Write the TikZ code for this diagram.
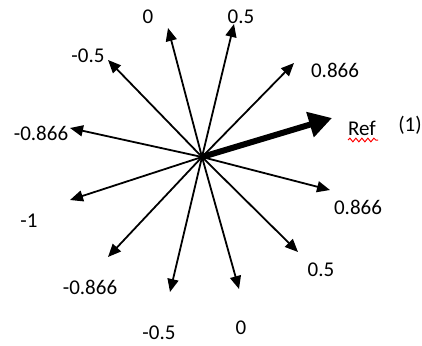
\documentclass[tikz,border=0pt]{standalone}
\usepackage{fontspec}
\setmainfont{Carlito}
\usetikzlibrary{arrows.meta,decorations.pathmorphing}
\begin{document}
\begin{tikzpicture}[x=1pt,y=-1pt,
  vec/.style={-{Triangle[length=13pt,width=11pt]}, line width=1.8pt},
  refvec/.style={-{Triangle[length=23pt,width=25pt]}, line width=6pt},
  lbl/.style={font=\fontsize{21}{25}\selectfont, inner sep=0pt},
  squig/.style={red, line width=1pt, decorate,
    decoration={snake, segment length=6pt, amplitude=1.8pt}}]
\useasboundingbox (0,0) rectangle (422,345);
\coordinate (o) at (202,157);
% arrow tips
\coordinate (t0) at (168,28);
\coordinate (tm05) at (108,60);
\coordinate (tm0866) at (70,128);
\coordinate (t05) at (234,24);
\coordinate (t0866) at (294,63);
\coordinate (tref) at (332,118);
\coordinate (tm1) at (70,200);
\coordinate (tbm0866) at (108,257);
\coordinate (tbm05) at (170,292);
\coordinate (tb0) at (239,289);
\coordinate (tb05) at (298,252);
\coordinate (tb0866) at (330,190);
% labels
\node[lbl] (l0) at (148,17) {0};
\node[lbl] (lm05) at (88,56) {-0.5};
\node[lbl] (lm0866) at (41,133) {-0.866};
\node[lbl] (l05) at (241,17) {0.5};
\node[lbl] (l0866) at (335,70) {0.866};
\node[lbl] (lref) at (362,128) {Ref};
\node[lbl] (lone) at (410,125) {(1)};
\node[lbl] (lm1) at (29,221) {-1};
\node[lbl] (lbm0866) at (90,287) {-0.866};
\node[lbl] (lbm05) at (159,333) {-0.5};
\node[lbl] (lb0) at (241,328) {0};
\node[lbl] (lb05) at (321,270) {0.5};
\node[lbl] (lb0866) at (358,207) {0.866};
% squiggle under Ref
\coordinate (sq1) at (348,140);
\coordinate (sq2) at (378,140);
\draw[squig] (sq1) -- (sq2);
% vectors
\draw[vec] (o) -- (t0);
\draw[vec] (o) -- (tm05);
\draw[vec] (o) -- (tm0866);
\draw[vec] (o) -- (t05);
\draw[vec] (o) -- (t0866);
\draw[vec] (o) -- (tm1);
\draw[vec] (o) -- (tbm0866);
\draw[vec] (o) -- (tbm05);
\draw[vec] (o) -- (tb0);
\draw[vec] (o) -- (tb05);
\draw[vec] (o) -- (tb0866);
\draw[refvec] (o) -- (tref);
\end{tikzpicture}
\end{document}
